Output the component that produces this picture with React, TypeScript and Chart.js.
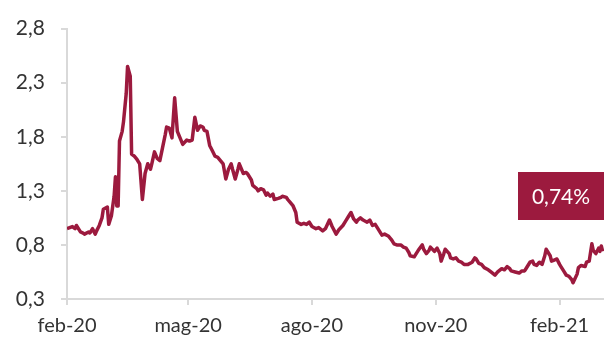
import React, { useEffect, useRef } from "react";
import { Chart, registerables } from "chart.js";

Chart.register(...registerables);

// days since 1 Feb 2020
const days: number[] = [
  0, 2, 4, 6, 7, 10, 12, 13, 16, 17, 19, 21, 22, 24, 26, 27, 30, 31, 33, 35, 36, 37, 38, 39, 41, 42, 44, 45, 47, 48,
  50, 52, 54, 56, 58, 60, 62, 63, 65, 67, 69, 71, 73, 74, 76, 78, 80, 82, 85, 86, 89, 91, 93, 95, 97, 99, 101, 102,
  104, 106, 108, 110, 112, 114, 116, 118, 120, 122, 123, 125, 127, 128, 131, 133, 134, 137, 138, 141, 142, 144, 146,
  148, 149, 151, 153, 154, 157, 159, 160, 163, 164, 166, 168, 170, 171, 174, 176, 178, 180, 182, 185, 187, 190, 192,
  195, 197, 200, 202, 205, 207, 209, 211, 213, 215, 216, 218, 220, 223, 225, 227, 229, 231, 234, 236, 239, 241, 243,
  245, 248, 250, 252, 254, 255, 258, 259, 261, 264, 265, 267, 269, 270, 273, 275, 277, 278, 280, 281, 284, 285, 287,
  289, 291, 293, 295, 298, 301, 303, 304, 306, 308, 310, 313, 315, 318, 320, 323, 325, 327, 329, 330, 333, 336, 338,
  340, 341, 344, 346, 347, 349, 351, 353, 355, 356, 359, 360, 362, 364, 366, 367, 369, 371, 373, 375, 376, 379, 380,
  382, 385, 386, 388, 390, 391, 393, 395, 396, 397, 398,
];

const values: number[] = [
  0.95, 0.96, 0.97, 0.95, 0.98, 0.92, 0.91, 0.9, 0.92, 0.91, 0.95, 0.9, 0.93, 0.98, 1.05, 1.13, 1.15, 0.99, 1.07, 1.25,
  1.43, 1.16, 1.16, 1.76, 1.85, 1.94, 2.2, 2.45, 2.36, 1.64, 1.62, 1.59, 1.55, 1.22, 1.46, 1.55, 1.5, 1.55, 1.66, 1.6,
  1.58, 1.7, 1.82, 1.89, 1.88, 1.79, 2.16, 1.85, 1.76, 1.73, 1.77, 1.76, 1.77, 1.98, 1.86, 1.9, 1.89, 1.86, 1.85, 1.72,
  1.67, 1.62, 1.61, 1.58, 1.55, 1.41, 1.5, 1.55, 1.5, 1.41, 1.5, 1.55, 1.46, 1.47, 1.46, 1.4, 1.35, 1.32, 1.3, 1.32,
  1.31, 1.26, 1.28, 1.25, 1.27, 1.22, 1.23, 1.24, 1.25, 1.24, 1.22, 1.19, 1.16, 1.1, 1.01, 0.99, 1.0, 0.99, 1.01, 0.97,
  0.95, 0.96, 0.93, 0.95, 1.03, 0.97, 0.9, 0.94, 0.98, 1.02, 1.06, 1.1, 1.04, 1.01, 1.03, 1.05, 1.03, 1.01, 1.03, 0.98,
  0.99, 0.95, 0.89, 0.9, 0.88, 0.85, 0.81, 0.8, 0.8, 0.78, 0.77, 0.73, 0.7, 0.69, 0.71, 0.75, 0.8, 0.76, 0.72, 0.75,
  0.78, 0.74, 0.77, 0.72, 0.65, 0.72, 0.76, 0.72, 0.68, 0.67, 0.68, 0.65, 0.64, 0.62, 0.62, 0.64, 0.68, 0.67, 0.63,
  0.62, 0.59, 0.57, 0.55, 0.52, 0.55, 0.58, 0.57, 0.6, 0.58, 0.56, 0.55, 0.54, 0.56, 0.56, 0.58, 0.64, 0.65, 0.62,
  0.61, 0.64, 0.62, 0.7, 0.76, 0.7, 0.65, 0.66, 0.67, 0.62, 0.6, 0.56, 0.52, 0.51, 0.48, 0.45, 0.53, 0.59, 0.61, 0.6,
  0.64, 0.65, 0.81, 0.75, 0.72, 0.77, 0.74, 0.79, 0.74,
];

const xTickDays: number[] = [0, 90, 182, 274, 366];
const xTickLabels: string[] = ["feb-20", "mag-20", "ago-20", "nov-20", "feb-21"];
const yTicks: number[] = [0.3, 0.8, 1.3, 1.8, 2.3, 2.8];
const lastLabel = "0,74%";

const RED = "#9c1a3e";
const AXIS = "#d9d9d9";
const TEXT = "#333333";
const FONT = "Lato";

export default function App() {
  const ref = useRef<HTMLCanvasElement | null>(null);

  useEffect(() => {
    document.body.style.margin = "0";
    const canvas = ref.current;
    if (!canvas) return;

    const boxPlugin = {
      id: "lastBox",
      afterDraw(chart: any) {
        const { ctx, chartArea } = chart;
        const w = 86;
        const h = 48;
        const x = chartArea.right - w;
        const y = 172;
        ctx.save();
        ctx.fillStyle = RED;
        ctx.fillRect(x, y, w, h);
        ctx.fillStyle = "#ffffff";
        ctx.font = `21px ${FONT}`;
        ctx.textAlign = "center";
        ctx.textBaseline = "middle";
        ctx.fillText(lastLabel, x + w / 2, y + h / 2 + 1);
        ctx.restore();
      },
    };

    const chart = new Chart(canvas, {
      type: "line",
      data: {
        datasets: [
          {
            data: days.map((d, i) => ({ x: d, y: values[i] })),
            borderColor: RED,
            borderWidth: 3.5,
            pointRadius: 0,
            tension: 0,
            fill: false,
            borderJoinStyle: "round",
          },
        ],
      },
      options: {
        animation: false,
        responsive: false,
        layout: { padding: { top: 21, right: 0, left: 0, bottom: 0 } },
        plugins: { legend: { display: false }, tooltip: { enabled: false } },
        scales: {
          x: {
            type: "linear",
            min: 0,
            max: 399,
            afterFit: (s: any) => {
              s.height = 44;
            },
            afterBuildTicks: (s: any) => {
              s.ticks = xTickDays.map((v) => ({ value: v }));
            },
            ticks: {
              autoSkip: false,
              maxRotation: 0,
              padding: 9,
              color: TEXT,
              font: { family: FONT, size: 20 },
              callback: (_v: any, i: number) => xTickLabels[i],
            },
            grid: { drawOnChartArea: false, drawTicks: true, tickLength: 6, color: AXIS, lineWidth: 2 },
            border: { display: true, color: AXIS, width: 2 },
          },
          y: {
            min: 0.3,
            max: 2.8,
            afterFit: (s: any) => {
              s.width = 67;
            },
            afterBuildTicks: (s: any) => {
              s.ticks = yTicks.map((v) => ({ value: v }));
            },
            ticks: {
              padding: 16,
              color: TEXT,
              font: { family: FONT, size: 21 },
              callback: (v: any) => Number(v).toFixed(1).replace(".", ","),
            },
            grid: { drawOnChartArea: false, drawTicks: true, tickLength: 6, color: AXIS, lineWidth: 2 },
            border: { display: true, color: AXIS, width: 2 },
          },
        },
      },
      plugins: [boxPlugin],
    });

    return () => chart.destroy();
  }, []);

  return (
    <div style={{ width: 604, height: 343, background: "#ffffff" }}>
      <canvas ref={ref} width={604} height={343} style={{ display: "block" }} />
    </div>
  );
}
